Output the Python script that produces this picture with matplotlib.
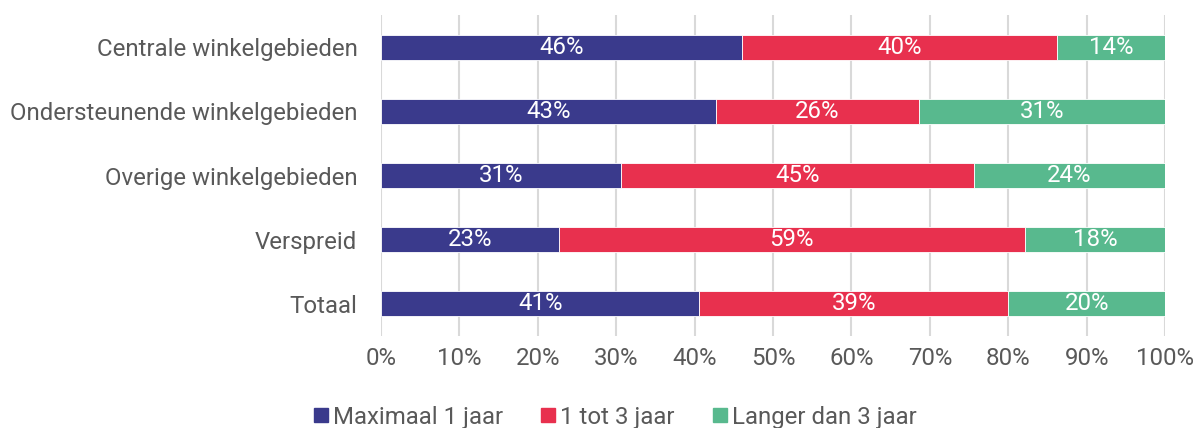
import numpy as np
import matplotlib
matplotlib.use("Agg")
import matplotlib.pyplot as plt
from matplotlib.lines import Line2D

plt.rcParams['font.family'] = ['Roboto', 'DejaVu Sans']

categories = ["Centrale winkelgebieden", "Ondersteunende winkelgebieden",
              "Overige winkelgebieden", "Verspreid", "Totaal"]
series_names = ["Maximaal 1 jaar", "1 tot 3 jaar", "Langer dan 3 jaar"]
max_1 = [46.0, 42.7, 30.6, 22.7, 40.6]
tot_3 = [40.2, 25.9, 45.0, 59.4, 39.4]
langer_3 = [13.8, 31.4, 24.4, 17.9, 20.0]
colors = ["#3A3A8C", "#E8304E", "#58B98E"]

fs = 17.3
fig = plt.figure(figsize=(11.97, 4.28), dpi=100)
ax = fig.add_axes([0.3183, 0.2161, 0.9733 - 0.3183, 0.9638 - 0.2161])

y = np.arange(len(categories))
left = np.zeros(len(categories))
for vals, col in zip([max_1, tot_3, langer_3], colors):
    vals = np.array(vals)
    bars = ax.barh(y, vals, left=left, height=0.4, color=col,
                   edgecolor='white', linewidth=0.6, zorder=3)
    for b, v in zip(bars, vals):
        ax.text(b.get_x() + b.get_width() / 2, b.get_y() + b.get_height() / 2,
                f"{v:.0f}%", ha='center', va='center', color='white',
                fontsize=fs, zorder=4)
    left += vals

ax.set_xlim(0, 100)
ax.set_ylim(len(categories) - 0.5, -0.5)
ax.set_xticks(np.arange(0, 101, 10))
ax.set_xticklabels([f"{t}%" for t in range(0, 101, 10)])
ax.set_yticks(y)
ax.set_yticklabels(categories)
ax.tick_params(axis='both', length=0, labelsize=fs, colors='#595959')
ax.tick_params(axis='x', pad=8)
ax.tick_params(axis='y', pad=17)
ax.grid(axis='x', color='#d9d9d9', linewidth=1.5, zorder=0)
for s in ax.spines.values():
    s.set_visible(False)

handles = [Line2D([], [], marker='s', linestyle='none', markersize=10,
                  color=c) for c in colors]
fig.legend(handles, series_names, loc='center', bbox_to_anchor=(0.512, 0.025),
           ncol=3, frameon=False, fontsize=fs, handletextpad=0.0,
           handlelength=1.0, columnspacing=1.4, labelcolor='#595959',
           borderpad=0)

fig.savefig("out.png", dpi=100)
